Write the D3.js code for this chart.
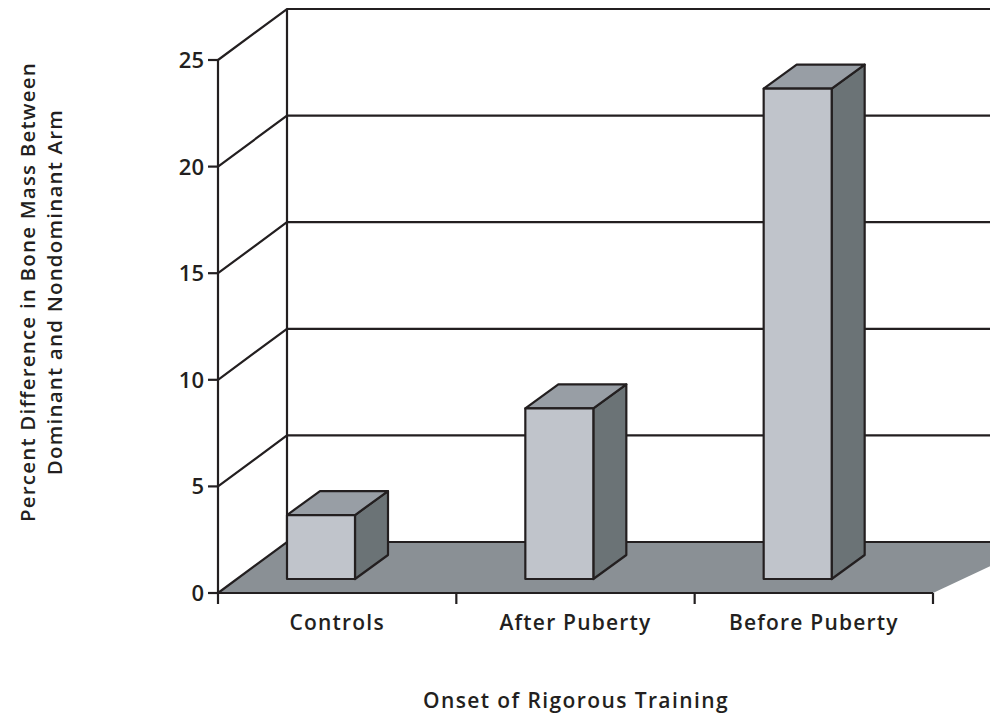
<!DOCTYPE html>
<html>
<head>
<meta charset="utf-8">
<script src="https://cdn.jsdelivr.net/npm/d3@7"></script>
<style>
  body { margin: 0; background: #fff; }
  text { font-family: "Open Sans", Lato, sans-serif; fill: #231f20; }
</style>
</head>
<body>
<div id="field"></div>
<script>
'use strict';

// data
const categories = ['Controls', 'After Puberty', 'Before Puberty'];
const values = [3, 8, 23];
const yTicks = [0, 5, 10, 15, 20, 25];
const yTitle = ['Percent Difference in Bone Mass Between', 'Dominant and Nondominant Arm'];
const xTitle = 'Onset of Rigorous Training';

function D3Graph(setting) {
  let w = setting.w,
      h = setting.h,
      svg = d3.select('#field').append('svg').attr('width', w).attr('height', h);

  let x0 = 218, x1 = 933,   // 前面の x 範囲
      wallDx = 69, wallDy = -51,  // 奥行き
      barW = 68, barDx = 33, barDy = -24,  // 棒の幅と奥行き
      baseDy = -14;  // 棒の底面の位置

  let xScale = d3.scaleBand().domain(categories).range([x0, x1]),
      yScale = d3.scaleLinear().domain([0, 25]).range([593, 60]);

  let y0 = yScale(0);

  // 床
  svg.append('polygon')
    .attr('points', [[x0, y0], [x0 + wallDx, y0 + wallDy], [x1 + wallDx + 40, y0 + wallDy], [x1, y0]].join(' '))
    .attr('fill', '#8a9095');

  // グリッドライン
  yTicks.forEach(function(t) {
    let y = yScale(t);
    svg.append('polyline')
      .attr('points', [[x0, y], [x0 + wallDx, y + wallDy], [w + 5, y + wallDy]].join(' '))
      .attr('fill', 'none')
      .attr('stroke', '#231f20')
      .attr('stroke-width', 2.2);
  });

  // 奥の壁の縦線
  svg.append('line')
    .attr('x1', x0 + wallDx).attr('x2', x0 + wallDx)
    .attr('y1', yScale(25) + wallDy).attr('y2', y0 + wallDy)
    .attr('stroke', '#231f20').attr('stroke-width', 2.2);

  // 棒
  let bars = svg.selectAll('g.bar').data(values).enter().append('g').attr('class', 'bar');

  function face(d, i, kind) {
    let left = xScale(categories[i]) + wallDx,
        right = left + barW,
        bottom = y0 + baseDy,
        top = bottom - (y0 - yScale(d));
    if (kind === 'front') return [[left, top], [right, top], [right, bottom], [left, bottom]];
    if (kind === 'top') return [[left, top], [left + barDx, top + barDy], [right + barDx, top + barDy], [right, top]];
    return [[right, top], [right + barDx, top + barDy], [right + barDx, bottom + barDy], [right, bottom]];
  }

  [['side', '#6b7376'], ['top', '#989ea5'], ['front', '#c0c4cb']].forEach(function(f) {
    bars.append('polygon')
      .attr('points', function(d, i) { return face(d, i, f[0]).join(' '); })
      .attr('fill', f[1])
      .attr('stroke', '#231f20')
      .attr('stroke-width', 2.2)
      .attr('stroke-linejoin', 'round');
  });

  // y 軸
  svg.append('line')
    .attr('x1', x0).attr('x2', x0)
    .attr('y1', yScale(25)).attr('y2', y0)
    .attr('stroke', '#231f20').attr('stroke-width', 2.2);

  let yt = svg.selectAll('g.ytick').data(yTicks).enter().append('g').attr('class', 'ytick');
  yt.append('line')
    .attr('x1', x0 - 10).attr('x2', x0)
    .attr('y1', function(d) { return yScale(d); })
    .attr('y2', function(d) { return yScale(d); })
    .attr('stroke', '#231f20').attr('stroke-width', 2.2);
  yt.append('text')
    .attr('x', x0 - 14)
    .attr('y', function(d) { return yScale(d) + 8; })
    .attr('text-anchor', 'end')
    .attr('font-size', '22px')
    .attr('font-weight', 600)
    .text(function(d) { return d; });

  // x 軸
  svg.append('line')
    .attr('x1', x0).attr('x2', x1)
    .attr('y1', y0).attr('y2', y0)
    .attr('stroke', '#231f20').attr('stroke-width', 2.2);

  let xEdges = categories.map(function(c) { return xScale(c); }).concat([x1]);
  svg.selectAll('line.xtick').data(xEdges).enter().append('line')
    .attr('class', 'xtick')
    .attr('x1', function(d) { return d; }).attr('x2', function(d) { return d; })
    .attr('y1', y0).attr('y2', y0 + 11)
    .attr('stroke', '#231f20').attr('stroke-width', 2.2);

  svg.selectAll('text.xlabel').data(categories).enter().append('text')
    .attr('class', 'xlabel')
    .attr('x', function(d) { return xScale(d) + xScale.bandwidth() / 2; })
    .attr('y', 630)
    .attr('text-anchor', 'middle')
    .attr('font-size', '21px')
    .attr('font-weight', 600)
    .attr('letter-spacing', '1.2px')
    .text(function(d) { return d; });

  // 軸タイトル
  svg.append('text')
    .attr('x', 576).attr('y', 708)
    .attr('text-anchor', 'middle')
    .attr('font-size', '21px')
    .attr('font-weight', 600)
    .attr('letter-spacing', '1.4px')
    .text(xTitle);

  svg.append('text')
    .attr('transform', 'translate(0,292) rotate(-90)')
    .attr('text-anchor', 'middle')
    .attr('font-size', '20.5px')
    .attr('font-weight', 600)
    .attr('letter-spacing', '1.2px')
    .selectAll('tspan').data(yTitle).enter().append('tspan')
    .attr('x', 0)
    .attr('y', function(d, i) { return 35 + i * 27; })
    .text(function(d) { return d; });
}

let d3Graph = new D3Graph({
  w: 990,
  h: 719
});
</script>
</body>
</html>
